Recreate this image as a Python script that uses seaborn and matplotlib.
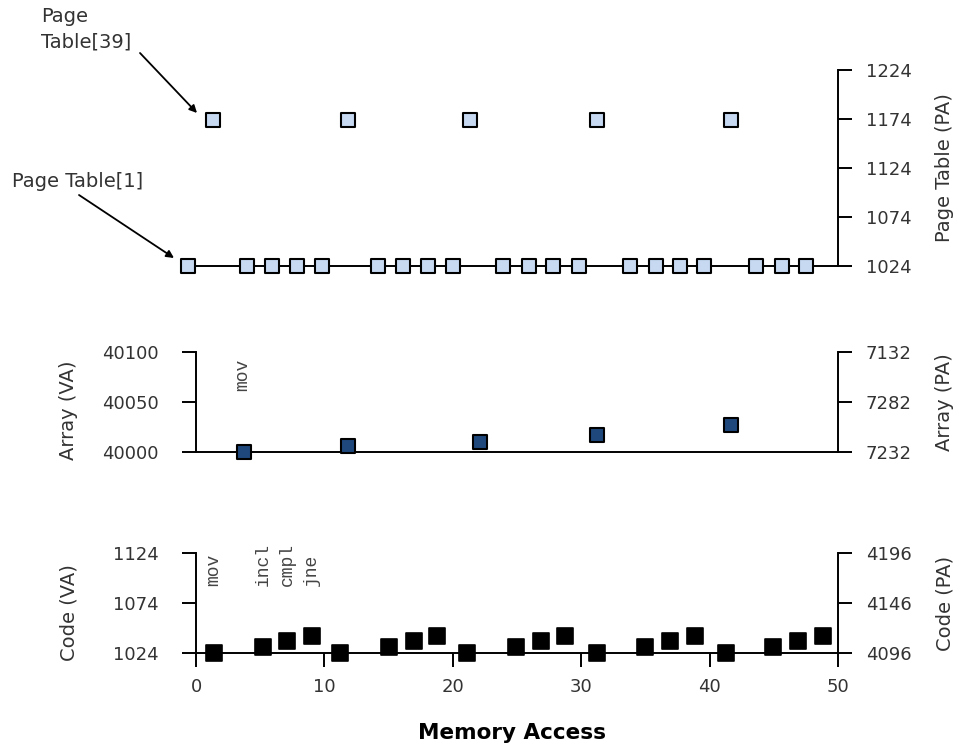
import pandas as pd
import seaborn as sns
import matplotlib.pyplot as plt
from matplotlib.patches import FancyArrowPatch

sns.set_theme(style="white")
plt.rcParams["font.family"] = ["DejaVu Sans"]

# Page table accesses (physical addresses)
pt1_x = [-0.6, 4.0, 5.9, 7.9, 9.8, 14.2, 16.1, 18.1, 20.0, 23.9,
         25.9, 27.8, 29.8, 33.8, 35.8, 37.7, 39.6, 43.6, 45.6, 47.5]
pt1_pa = [1024, 1024, 1024, 1024, 1024, 1024, 1024, 1024, 1024, 1024,
          1024, 1024, 1024, 1024, 1024, 1024, 1024, 1024, 1024, 1024]
pt39_x = [1.3, 11.8, 21.3, 31.2, 41.7]
pt39_pa = [1173, 1173, 1173, 1173, 1173]

# Array accesses (virtual addresses)
arr_x = [3.7, 11.8, 22.1, 31.2, 41.7]
arr_va = [40000, 40006, 40010, 40017, 40027]

# Instruction fetches (virtual addresses)
code_x = [1.4, 5.2, 7.1, 9.0, 11.2, 15.0, 17.0, 18.8, 21.1, 24.9,
          26.9, 28.7, 31.2, 35.0, 36.9, 38.9, 41.3, 44.9, 46.9, 48.8]
code_va = [1024, 1030, 1036, 1041, 1024, 1030, 1036, 1041, 1024, 1030,
           1036, 1041, 1024, 1030, 1036, 1041, 1024, 1030, 1036, 1041]

pt_ticks = [1024, 1074, 1124, 1174, 1224]
arr_va_ticks = [40000, 40050, 40100]
arr_pa_labels = ["7232", "7282", "7132"]
code_va_ticks = [1024, 1074, 1124]
code_pa_labels = ["4096", "4146", "4196"]
x_ticks = [0, 10, 20, 30, 40, 50]

code_instr = ["mov", "incl", "cmpl", "jne"]
code_instr_x = [1.4, 5.2, 7.1, 9.0]

pt_df = pd.DataFrame({"x": pt1_x + pt39_x, "pa": pt1_pa + pt39_pa})
arr_df = pd.DataFrame({"x": arr_x, "va": arr_va})
code_df = pd.DataFrame({"x": code_x, "va": code_va})

W, H = 958, 748
fig = plt.figure(figsize=(W / 100, H / 100), dpi=100)

xlo, xhi = -1.6, 50
left, width = 175.5 / W, 662.5 / W
ax_pt = fig.add_axes([left, 482 / H, width, 196 / H])
ax_arr = fig.add_axes([left, 296.3 / H, width, 100 / H])
ax_code = fig.add_axes([left, 94.7 / H, width, 100 / H])

text_c = "#333333"
fs = 13      # tick labels
lfs = 14     # axis labels and annotations
lw = 1.4
tick_kw = dict(length=10, width=lw, color="black", labelsize=fs, labelcolor=text_c)

# --- page table panel ---
sns.scatterplot(data=pt_df, x="x", y="pa", ax=ax_pt, marker="s", s=115,
                color="#c6d9f1", edgecolor="black", linewidth=1.5,
                clip_on=False, zorder=5)
ax_pt.set_xlim(xlo, xhi)
ax_pt.set_ylim(1024, 1224)
ax_pt.set_yticks(pt_ticks)
ax_pt.yaxis.tick_right()
ax_pt.yaxis.set_label_position("right")
ax_pt.set_xticks([])
for s in ["left", "top"]:
    ax_pt.spines[s].set_visible(False)
ax_pt.spines["bottom"].set_bounds(-1.2, 50)
ax_pt.tick_params(axis="y", pad=10, **tick_kw)
ax_pt.set_ylabel("Page Table (PA)", fontsize=lfs, color=text_c)
ax_pt.yaxis.set_label_coords(1.147, 0.5)
ax_pt.set_xlabel("")

# --- array panel ---
sns.scatterplot(data=arr_df, x="x", y="va", ax=ax_arr, marker="s", s=105,
                color="#1f497d", edgecolor="black", linewidth=1.5,
                clip_on=False, zorder=5)
ax_arr.set_xlim(xlo, xhi)
ax_arr.set_ylim(40000, 40100)
ax_arr.set_yticks(arr_va_ticks)
ax_arr.set_xticks([])
ax_arr.spines["top"].set_visible(False)
ax_arr.spines["right"].set_visible(False)
ax_arr.spines["left"].set_position(("data", 0))
ax_arr.spines["bottom"].set_bounds(0, 50)
ax_arr.tick_params(axis="y", pad=17, **tick_kw)
ax_arr.set_ylabel("Array (VA)", fontsize=lfs, color=text_c)
ax_arr.yaxis.set_label_coords(-0.147, 0.41)
ax_arr.set_xlabel("")
ax_arr.text(3.6, 40061, "mov", rotation=90, ha="center", va="bottom",
            family="Liberation Mono", fontsize=13, color="#444444")

arr_r = ax_arr.twinx()
arr_r.set_ylim(40000, 40100)
arr_r.set_yticks(arr_va_ticks)
arr_r.set_yticklabels(arr_pa_labels)
for s in ["left", "top", "bottom"]:
    arr_r.spines[s].set_visible(False)
arr_r.tick_params(axis="y", pad=10, **tick_kw)
arr_r.set_ylabel("Array (PA)", fontsize=lfs, color=text_c)
arr_r.yaxis.set_label_coords(1.147, 0.5)

# --- code panel ---
sns.scatterplot(data=code_df, x="x", y="va", ax=ax_code, marker="s", s=125,
                color="black", edgecolor="black", linewidth=1.2,
                clip_on=False, zorder=5)
ax_code.set_xlim(xlo, xhi)
ax_code.set_ylim(1024, 1124)
ax_code.set_yticks(code_va_ticks)
ax_code.set_xticks(x_ticks)
ax_code.spines["top"].set_visible(False)
ax_code.spines["right"].set_visible(False)
ax_code.spines["left"].set_position(("data", 0))
ax_code.spines["bottom"].set_bounds(0, 50)
ax_code.tick_params(axis="y", pad=17, **tick_kw)
ax_code.tick_params(axis="x", pad=8, **tick_kw)
ax_code.xaxis.set_ticks_position("bottom")
ax_code.set_ylabel("Code (VA)", fontsize=lfs, color=text_c)
ax_code.yaxis.set_label_coords(-0.147, 0.41)
ax_code.set_xlabel("")
for name, xv in zip(code_instr, code_instr_x):
    ax_code.text(xv, 1091, name, rotation=90, ha="center", va="bottom",
                 family="Liberation Mono", fontsize=13, color="#444444")

code_r = ax_code.twinx()
code_r.set_ylim(1024, 1124)
code_r.set_yticks(code_va_ticks)
code_r.set_yticklabels(code_pa_labels)
for s in ["left", "top", "bottom"]:
    code_r.spines[s].set_visible(False)
code_r.tick_params(axis="y", pad=10, **tick_kw)
code_r.set_ylabel("Code (PA)", fontsize=lfs, color=text_c)
code_r.yaxis.set_label_coords(1.147, 0.5)

for a in [ax_pt, ax_arr, ax_code, arr_r, code_r]:
    for sp in a.spines.values():
        sp.set_linewidth(lw)
        sp.set_color("black")

# annotations
fig.text(41, H - 7, "Page\nTable[39]", transform=None, ha="left", va="top",
         fontsize=lfs, color=text_c, linespacing=1.4)
fig.text(12, H - 187, "Page Table[1]", transform=None, ha="left", va="baseline",
         fontsize=lfs, color=text_c)
arrow = dict(arrowstyle="-|>", color="black", lw=1.3, shrinkA=0, shrinkB=0,
             mutation_scale=11)
fig.add_artist(FancyArrowPatch((140, H - 53), (197, H - 113),
                               transform=None, **arrow))
fig.add_artist(FancyArrowPatch((79, H - 195), (174, H - 258),
                               transform=None, **arrow))

fig.text(512 / W, (H - 733) / H, "Memory Access", ha="center", va="center",
         fontsize=15.5, fontweight="bold", color="black")

fig.savefig("out.png", dpi=100)
